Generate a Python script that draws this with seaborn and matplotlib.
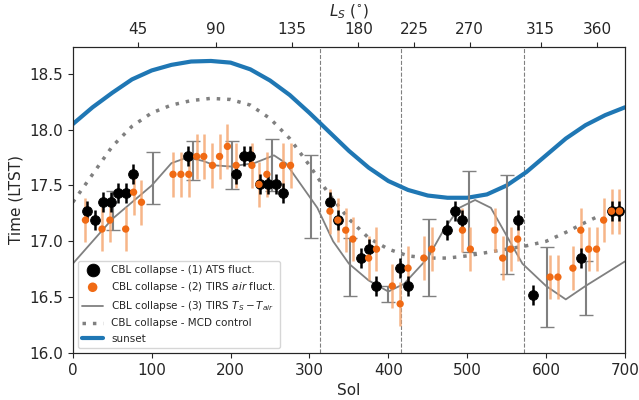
import numpy as np
import matplotlib
matplotlib.use("Agg")
import matplotlib.pyplot as plt
import seaborn as sns

sns.set_style("ticks")
plt.rcParams['font.family'] = ['DejaVu Sans']

# (1) ATS fluctuations
ats_sol = [18, 28, 38, 48, 57, 67, 76, 146, 207, 217, 225, 237, 247, 257, 266,
           326, 336, 365, 375, 385, 415, 425, 475, 484, 494, 564, 584, 644, 683, 693]
ats_t = [17.27, 17.19, 17.35, 17.35, 17.43, 17.43, 17.60, 17.76, 17.60, 17.76, 17.76, 17.51, 17.51, 17.51, 17.43,
         17.35, 17.19, 16.85, 16.93, 16.60, 16.76, 16.60, 17.10, 17.27, 17.19, 17.19, 16.52, 16.85, 17.27, 17.27]

# (2) TIRS air fluctuations
tirs_sol = [16, 37, 47, 67, 77, 87, 127, 137, 147, 157, 166, 177, 186, 196, 207, 227, 236, 246, 266, 276,
            326, 336, 346, 355, 375, 385, 405, 415, 425, 445, 455, 494, 504, 535, 545, 555, 564,
            605, 615, 634, 644, 654, 664, 673, 683, 693]
tirs_t = [17.19, 17.11, 17.19, 17.11, 17.44, 17.35, 17.60, 17.60, 17.60, 17.76, 17.76, 17.68, 17.76, 17.85, 17.68,
          17.68, 17.51, 17.60, 17.68, 17.68,
          17.27, 17.19, 17.10, 17.02, 16.85, 16.93, 16.60, 16.44, 16.76, 16.85, 16.93, 17.10, 16.93, 17.10,
          16.85, 16.93, 17.02, 16.68, 16.68, 16.76, 17.10, 16.93, 16.93, 17.19, 17.27, 17.27]

# (3) TIRS Ts - Tair: binned ranges
bin_sol = [51, 101, 152, 202, 252, 302, 351, 399, 451, 502, 550, 601, 650]
bin_lo = [17.10, 17.33, 17.55, 17.47, 17.45, 17.03, 16.51, 16.46, 16.51, 16.90, 16.71, 16.23, 16.34]
bin_hi = [17.45, 17.80, 17.90, 17.90, 17.92, 17.77, 17.03, 16.60, 17.20, 17.63, 17.59, 16.95, 16.82]

line_sol = [0, 25, 50, 75, 100, 125, 145, 165, 180, 200, 230, 255, 270, 290, 310, 330, 350, 375, 400,
            420, 450, 470, 490, 510, 530, 550, 570, 600, 625, 650, 700]
line_t = [16.80, 17.00, 17.20, 17.35, 17.50, 17.70, 17.75, 17.72, 17.68, 17.67, 17.70, 17.77, 17.70, 17.50,
          17.30, 17.00, 16.80, 16.65, 16.55, 16.62, 16.85, 17.10, 17.30, 17.37, 17.30, 17.05, 16.80, 16.60,
          16.48, 16.60, 16.82]

mcd_sol = [0, 25, 50, 75, 100, 125, 150, 175, 200, 225, 250, 275, 300, 325, 350, 375, 400, 425, 450,
           475, 500, 525, 550, 575, 600, 625, 650, 665]
mcd_t = [17.35, 17.60, 17.85, 18.03, 18.15, 18.22, 18.26, 18.28, 18.27, 18.22, 18.10, 17.92, 17.68, 17.42,
         17.20, 17.03, 16.93, 16.87, 16.85, 16.85, 16.87, 16.90, 16.93, 16.96, 17.00, 17.08, 17.17, 17.22]

sun_sol = [0, 25, 50, 75, 100, 125, 150, 175, 200, 225, 250, 275, 300, 325, 350, 375, 400, 425, 450,
           475, 500, 525, 550, 575, 600, 625, 650, 675, 700]
sun_t = [18.05, 18.20, 18.33, 18.45, 18.53, 18.58, 18.61, 18.615, 18.60, 18.54, 18.44, 18.31, 18.15, 17.98,
         17.81, 17.66, 17.54, 17.46, 17.41, 17.39, 17.39, 17.42, 17.50, 17.62, 17.77, 17.92, 18.04, 18.13, 18.20]

ls_ticks = [45, 90, 135, 180, 225, 270, 315, 360]
ls_sols = [82, 181, 278, 362, 433, 503, 593, 665]
season_sols = [313, 416, 572]

fig = plt.figure(figsize=(6.39, 4.0), dpi=100)
ax = fig.add_axes([0.114, 0.1175, 0.864, 0.765])

for s in season_sols:
    ax.axvline(s, color='gray', ls='--', lw=0.8)

sns.lineplot(x=sun_sol, y=sun_t, ax=ax, color='#1f77b4', lw=3, label='sunset')
sns.lineplot(x=mcd_sol, y=mcd_t, ax=ax, color='gray', lw=2.5, ls=(0, (1, 2)),
             label='CBL collapse - MCD control')
sns.lineplot(x=line_sol, y=line_t, ax=ax, color='gray', lw=1.3,
             label='CBL collapse - (3) TIRS $T_S-T_{air}$')
mid = (np.array(bin_lo) + np.array(bin_hi)) / 2
ax.errorbar(bin_sol, mid, yerr=(np.array(bin_hi) - np.array(bin_lo)) / 2, fmt='none',
            ecolor='gray', elinewidth=1.5, capsize=5)
ax.errorbar(tirs_sol, tirs_t, yerr=0.2, fmt='none', ecolor='#f5a36b', elinewidth=1.8, alpha=0.8)
ax.errorbar(ats_sol, ats_t, yerr=0.09, fmt='none', ecolor='black', elinewidth=1.8)
sns.scatterplot(x=ats_sol, y=ats_t, ax=ax, color='black', s=50, edgecolor='black', zorder=5,
                label='CBL collapse - (1) ATS fluct.')
sns.scatterplot(x=tirs_sol, y=tirs_t, ax=ax, color='#f06a14', s=28, edgecolor='none', zorder=6,
                label='CBL collapse - (2) TIRS $air$ fluct.')

h, l = ax.get_legend_handles_labels()
order = [3, 4, 2, 1, 0]
ax.legend([h[i] for i in order], [l[i] for i in order], loc='lower left', fontsize=7.5, markerscale=1.3)

ax.set_xlim(0, 700)
ax.set_ylim(16.0, 18.74)
ax.set_yticks([16.0, 16.5, 17.0, 17.5, 18.0, 18.5])
ax.set_xlabel('Sol', fontsize=11)
ax.set_ylabel('Time (LTST)', fontsize=11)
ax.tick_params(labelsize=11, direction='out')

top = ax.twiny()
top.set_xlim(0, 700)
top.set_xticks(ls_sols)
top.set_xticklabels(ls_ticks)
top.tick_params(labelsize=11)
top.set_xlabel('$L_S$ ($^{\\circ}$)', fontsize=11)

fig.savefig('out.png', dpi=100)
